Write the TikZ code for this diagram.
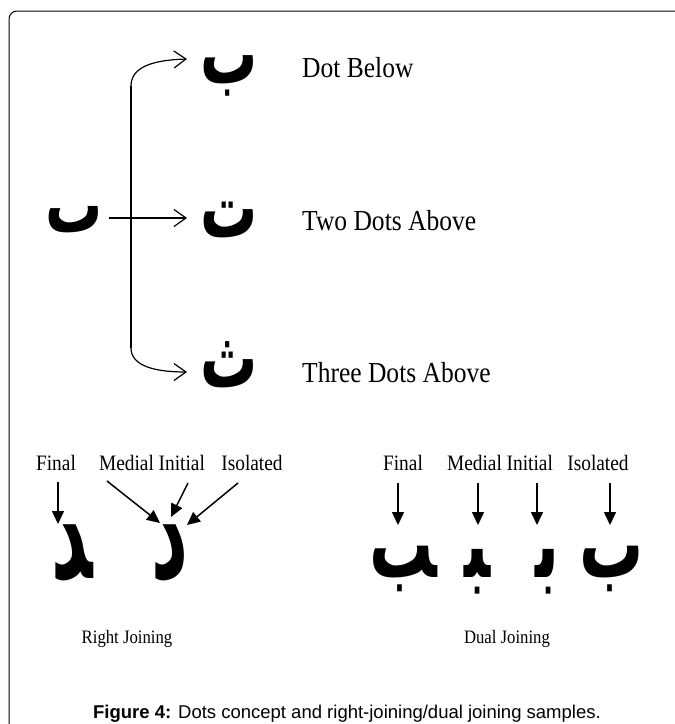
\documentclass[tikz,border=0pt]{standalone}
\usepackage{fontspec}
\usepackage{graphicx}
\setmainfont{Liberation Serif}
\newfontfamily\lbl[FakeStretch=0.88]{Liberation Serif}
\newfontfamily\capfont{Liberation Sans}
\newfontfamily\arabicfont[Script=Arabic]{DejaVu Sans}
\TeXXeTstate=1
\newcommand\arglyph[2]{\scalebox{1}[#1]{\beginR #2\endR}}
\usetikzlibrary{arrows.meta}
\tikzset{
  ar/.style={font=\arabicfont\bfseries\fontsize{57}{60}\selectfont, inner sep=0pt, anchor=base},
  arsm/.style={font=\arabicfont\bfseries\fontsize{64}{68}\selectfont, inner sep=0pt, anchor=base},
  ardal/.style={font=\arabicfont\bfseries\fontsize{72}{76}\selectfont, inner sep=0pt, anchor=base},
  toplbl/.style={font=\lbl\fontsize{29}{32}\selectfont, inner sep=0pt, anchor=base west},
  botlbl/.style={font=\lbl\fontsize{22}{24}\selectfont, inner sep=0pt, anchor=base},
  joinlbl/.style={font=\lbl\fontsize{19}{21}\selectfont, inner sep=0pt, anchor=base},
  openarr/.style={line width=1.2pt, -{Straight Barb[length=12pt,width=17pt,line width=1.2pt]}},
  filarr/.style={line width=1.5pt, -{Triangle[length=13pt,width=12pt]}},
  trunk/.style={line width=1.2pt},
  frame/.style={line width=1pt, rounded corners=8pt},
}
\begin{document}
\begin{tikzpicture}[x=1pt,y=-1pt]
\useasboundingbox (0,0) rectangle (675,724);
\clip (0,0) rectangle (675,724);
\draw[frame] (9,11) rectangle (700,760);

% top part
\node[ar] (dotless) at (74,232) {\arglyph{1.4}{ٮ}};
\node[ar] (ba) at (229,83) {\arglyph{1.5}{ب}};
\node[ar] (ta) at (229,237) {\arglyph{1.5}{ت}};
\node[ar] (tha) at (229,387) {\arglyph{1.5}{ث}};

\node[toplbl] (lba) at (302,77) {Dot Below};
\node[toplbl] (lta) at (302,230) {Two Dots Above};
\node[toplbl] (ltha) at (302,382) {Three Dots Above};

\coordinate (hs) at (109,218);
\coordinate (tipB) at (187,218);
\coordinate (trunkTop) at (131,86);
\coordinate (trunkBot) at (131,348);
\coordinate (tipA) at (187,59);
\coordinate (tipC) at (187,372);

\draw[trunk] (trunkTop) -- (trunkBot);
\draw[openarr] (trunkTop) .. controls (131,66) and (155,60) .. (tipA);
\draw[openarr] (trunkBot) .. controls (131,366) and (155,372) .. (tipC);
\draw[openarr] (hs) -- (tipB);

% right joining
\node[botlbl] (rfin) at (56,470) {Final};
\node[botlbl] (rmi) at (152,470) {Medial Initial};
\node[botlbl] (riso) at (252,470) {Isolated};
\node[ardal] (dalf) at (72,578) {\arglyph{1.8}{^^^^200dد}};
\node[ardal] (dali) at (170,578) {\arglyph{1.8}{د}};

\coordinate (a1s) at (58,482);  \coordinate (a1e) at (58,524);
\coordinate (a2s) at (107,481); \coordinate (a2e) at (160,523);
\coordinate (a3s) at (188,483); \coordinate (a3e) at (171,517);
\coordinate (a4s) at (238,483); \coordinate (a4e) at (187,525);
\draw[filarr] (a1s) -- (a1e);
\draw[filarr] (a2s) -- (a2e);
\draw[filarr] (a3s) -- (a3e);
\draw[filarr] (a4s) -- (a4e);
\node[joinlbl] (rj) at (127,643) {Right Joining};

% dual joining
\node[botlbl] (dfin) at (403,470) {Final};
\node[botlbl] (dmi) at (500,470) {Medial Initial};
\node[botlbl] (diso) at (598,470) {Isolated};
\node[arsm] (baf) at (403,577) {\arglyph{1.5}{^^^^200dب}};
\node[arsm] (bam) at (478,577) {\arglyph{1.5}{^^^^200dب^^^^200d}};
\node[arsm] (bai) at (548,577) {\arglyph{1.5}{ب^^^^200d}};
\node[arsm] (bais) at (612,577) {\arglyph{1.5}{ب}};

\coordinate (b1s) at (398,483); \coordinate (b1e) at (398,525);
\coordinate (b2s) at (478,483); \coordinate (b2e) at (478,525);
\coordinate (b3s) at (537,483); \coordinate (b3e) at (537,525);
\coordinate (b4s) at (610,483); \coordinate (b4e) at (610,525);
\draw[filarr] (b1s) -- (b1e);
\draw[filarr] (b2s) -- (b2e);
\draw[filarr] (b3s) -- (b3e);
\draw[filarr] (b4s) -- (b4e);
\node[joinlbl] (dj) at (507,643) {Dual Joining};

% caption
\node[font=\capfont\fontsize{18.5}{21}\selectfont, inner sep=0pt, anchor=base] (cap) at (347,718) {\textbf{Figure 4:} Dots concept and right-joining/dual joining samples.};
\end{tikzpicture}
\end{document}
